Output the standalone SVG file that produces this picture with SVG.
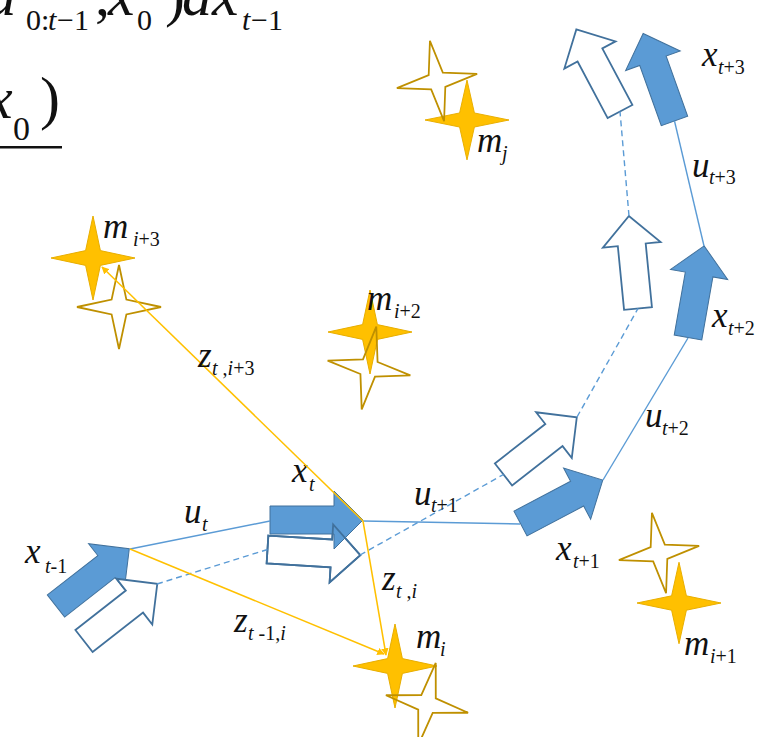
<svg xmlns="http://www.w3.org/2000/svg" width="775" height="737" viewBox="0 0 775 737" style="font-family:'Times New Roman',Times,'Liberation Serif','DejaVu Serif',serif">
<style>
.f{fill:#5B9BD5;stroke:#41719C;stroke-width:1}
.o{fill:#fff;stroke:#41719C;stroke-width:1.8}
.on{fill:none;stroke:#41719C;stroke-width:1.8}
.sf{fill:#FFC000;stroke:#E8AE00;stroke-width:1}
.so{fill:none;stroke:#BF9000;stroke-width:1.8}
.bl{stroke:#5B9BD5;stroke-width:1.4;fill:none}
.dl{stroke:#5B9BD5;stroke-width:1.4;fill:none;stroke-dasharray:6 4}
.yl{stroke:#FFC000;stroke-width:1.5;fill:none;marker-end:url(#ah)}
.t{font-family:'Times New Roman',Times,'Liberation Serif','DejaVu Serif',serif;fill:#111}
.m{font-style:italic;font-size:35px}
.s{font-style:italic;font-size:20px}
.u{font-style:normal}
</style>
<defs>
<path id="arr" d="M0,-14 H64 V-29 L93,0 L64,29 V14 H0 Z"/>
<path id="star" d="M0,-42 L7.4,-7.4 L42,0 L7.4,7.4 L0,42 L-7.4,7.4 L-42,0 L-7.4,-7.4 Z"/>
<marker id="ah" viewBox="0 0 10 10" refX="9" refY="5" markerWidth="5" markerHeight="5" orient="auto" markerUnits="strokeWidth">
<path d="M0,0 L10,5 L0,10 Z" fill="#FFC000"/>
</marker>
</defs>

<g id="formula">
<text class="t" y="15" x="-14" font-size="60" font-style="italic">u</text>
<text class="t" y="30" font-size="30"><tspan x="26">0:</tspan><tspan x="48" font-style="italic">t</tspan><tspan x="57">−1</tspan></text>
<text class="t" y="15" font-size="60"><tspan x="95">,</tspan><tspan x="108" font-style="italic">x</tspan></text>
<text class="t" y="30" font-size="30" x="137">0</text>
<text class="t" y="15" font-size="60"><tspan x="165">)</tspan><tspan x="182" font-style="italic">dx</tspan></text>
<text class="t" y="30" font-size="30"><tspan x="242" font-style="italic">t</tspan><tspan x="251">−1</tspan></text>
<text class="t" y="118" font-size="60" x="-14" font-style="italic">x</text>
<text class="t" y="140" font-size="34" x="13">0</text>
<text class="t" y="118" font-size="60" x="40">)</text>
<rect x="0" y="146" width="62" height="2.5" fill="#111"/>
</g>

<g id="m_i3">
<use href="#star" class="sf" transform="translate(93,258)"/>
<use href="#star" class="so" transform="translate(119,307)"/>
<text class="t"><tspan class="m" x="103" y="238">m</tspan><tspan class="s" x="133" y="246">i</tspan><tspan class="s u" y="246">+3</tspan></text>
</g>
<g id="m_j">
<use href="#star" class="sf" transform="translate(467,120) scale(1,0.95)"/>
<use href="#star" class="so" transform="translate(437,81) rotate(-10) scale(0.97)"/>
<text class="t"><tspan class="m" x="477" y="152">m</tspan><tspan class="s" x="502" y="160">j</tspan></text>
</g>
<g id="m_i2">
<use href="#star" class="sf" transform="translate(370,332)"/>
<use href="#star" class="so" transform="translate(369,368) rotate(10)"/>
<text class="t"><tspan class="m" x="367" y="310">m</tspan><tspan class="s" x="394" y="318">i</tspan><tspan class="s u" y="318">+2</tspan></text>
</g>
<g id="m_i">
<use href="#star" class="sf" transform="translate(395,666)"/>
<use href="#star" class="so" transform="translate(427,704) rotate(12)"/>
<text class="t"><tspan class="m" x="416" y="648">m</tspan><tspan class="s" x="440" y="656">i</tspan></text>
</g>
<g id="m_i1">
<use href="#star" class="sf" transform="translate(679,603) scale(1,0.97)"/>
<use href="#star" class="so" transform="translate(659,553) rotate(-10) scale(0.97)"/>
<text class="t"><tspan class="m" x="684" y="655">m</tspan><tspan class="s" x="710" y="663">i</tspan><tspan class="s u" y="663">+1</tspan></text>
</g>

<g id="x_t-1">
<use href="#arr" class="f" transform="translate(56,606) rotate(-38)"/>
<use href="#arr" class="o" transform="translate(84,641) rotate(-38)"/>
<text class="t"><tspan class="m" x="25" y="563">x</tspan><tspan class="s" x="45" y="573">t</tspan><tspan class="s u" y="573">-1</tspan></text>
</g>
<g id="x_t">
<use href="#arr" class="o" transform="translate(267.5,549.5) rotate(3.5)"/>
<use href="#arr" class="f" transform="translate(270,520)"/>
<use href="#arr" class="on" transform="translate(267.5,549.5) rotate(3.5)"/>
<text class="t"><tspan class="m" x="292" y="482">x</tspan><tspan class="s" x="309" y="491">t</tspan></text>
</g>
<g id="x_t1">
<use href="#arr" class="f" transform="translate(520.5,523.5) rotate(-27.8)"/>
<use href="#arr" class="o" transform="translate(503.5,474.5) rotate(-38)"/>
<text class="t"><tspan class="m" x="556" y="560">x</tspan><tspan class="s" x="573" y="568">t</tspan><tspan class="s u" y="568">+1</tspan></text>
</g>
<g id="x_t2">
<use href="#arr" class="f" transform="translate(688,337.5) rotate(-80)"/>
<use href="#arr" class="o" transform="translate(638,308.5) rotate(-95.6)"/>
<text class="t"><tspan class="m" x="712" y="327">x</tspan><tspan class="s" x="728" y="335">t</tspan><tspan class="s u" y="335">+2</tspan></text>
</g>
<g id="x_t3">
<use href="#arr" class="f" transform="translate(674.5,121) rotate(-109.7)"/>
<use href="#arr" class="o" transform="translate(620,111.5) rotate(-118)"/>
<text class="t"><tspan class="m" x="702" y="66">x</tspan><tspan class="s" x="718" y="74">t</tspan><tspan class="s u" y="74">+3</tspan></text>
</g>

<g id="connectors">
<line class="bl" x1="130" y1="549" x2="270" y2="521"/>
<line class="bl" x1="363" y1="521" x2="520" y2="524"/>
<line class="bl" x1="603" y1="480" x2="688" y2="338"/>
<line class="bl" x1="704" y1="246" x2="674.5" y2="121"/>
<line class="dl" x1="157" y1="584" x2="267.5" y2="549.5"/>
<line class="dl" x1="360" y1="555" x2="503.5" y2="474.5"/>
<line class="dl" x1="577" y1="417" x2="638" y2="308.5"/>
<line class="dl" x1="629" y1="216" x2="620" y2="111.5"/>
<line class="yl" x1="363" y1="521" x2="102" y2="267"/>
<line class="yl" x1="363" y1="521" x2="386" y2="655"/>
<line class="yl" x1="130" y1="549" x2="384" y2="654"/>
</g>

<g id="labels">
<text class="t"><tspan class="m" x="184" y="523">u</tspan><tspan class="s" x="202" y="531">t</tspan></text>
<text class="t"><tspan class="m" x="414" y="505">u</tspan><tspan class="s" x="431" y="512">t</tspan><tspan class="s u" y="512">+1</tspan></text>
<text class="t"><tspan class="m" x="645" y="427">u</tspan><tspan class="s" x="662" y="435">t</tspan><tspan class="s u" y="435">+2</tspan></text>
<text class="t"><tspan class="m" x="692" y="177">u</tspan><tspan class="s" x="709" y="184">t</tspan><tspan class="s u" y="184">+3</tspan></text>
<text class="t"><tspan class="m" x="382" y="590">z</tspan><tspan class="s" x="396" y="598">t</tspan><tspan class="s u" y="598"> ,</tspan><tspan class="s" y="598">i</tspan></text>
<text class="t"><tspan class="m" x="234" y="632">z</tspan><tspan class="s" x="248" y="640">t</tspan><tspan class="s u" y="640"> -1,</tspan><tspan class="s" y="640">i</tspan></text>
<text class="t"><tspan class="m" x="198" y="367">z</tspan><tspan class="s" x="212" y="375">t</tspan><tspan class="s u" y="375"> ,</tspan><tspan class="s" y="375">i</tspan><tspan class="s u" y="375">+3</tspan></text>
</g>
</svg>
